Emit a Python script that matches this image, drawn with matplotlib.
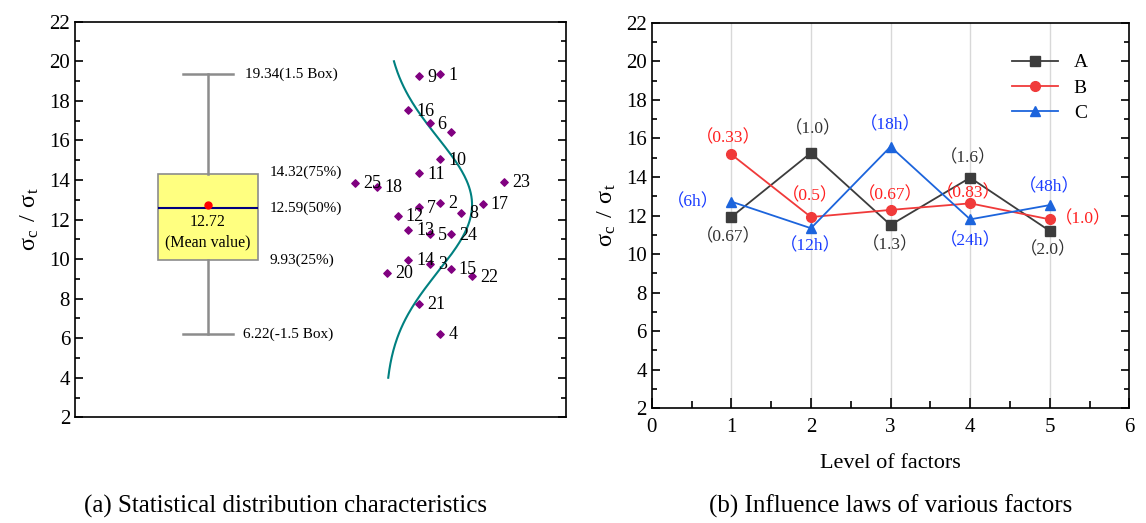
import numpy as np
import matplotlib.pyplot as plt
from matplotlib.ticker import MultipleLocator

plt.rcParams['font.family'] = ['Liberation Serif', 'Noto Sans CJK SC']
plt.rcParams['mathtext.fontset'] = 'custom'
plt.rcParams['mathtext.rm'] = 'Liberation Sans'

# ---- (a) sample data ----
sample_id = list(range(1, 26))
sample_val = [19.34, 12.85, 9.77, 6.22, 11.26, 16.86, 12.62, 12.35, 19.25, 15.04,
              14.34, 12.20, 11.47, 9.96, 9.50, 17.52, 12.79, 13.66, 16.41, 9.30,
              7.75, 9.12, 13.92, 11.26, 13.86]
sample_pos = [34, 34, 33, 34, 33, 33, 32, 36, 32, 34,
              32, 30, 31, 31, 35, 31, 38, 28, 35, 29,
              32, 37, 40, 35, 26]
sample_lbl = [str(i) for i in sample_id]
sample_lbl[18] = ''   # point 19 has no visible label

box_q1, box_med, box_q3 = 9.93, 12.59, 14.32
box_lo, box_hi = 6.22, 19.34
box_mean = 12.72

# ---- (b) level of factors ----
levels = [1, 2, 3, 4, 5]
A_val = [11.92, 15.25, 11.51, 13.96, 11.20]
B_val = [15.17, 11.92, 12.29, 12.63, 11.80]
C_val = [12.72, 11.34, 15.57, 11.80, 12.54]
A_txt = ['（0.67）', '（1.0）', '（1.3）', '（1.6）', '（2.0）']
B_txt = ['（0.33）', '（0.5）', '（0.67）', '（0.83）', '（1.0）']
C_txt = ['（6h）', '（12h）', '（18h）', '（24h）', '（48h）']

fig = plt.figure(figsize=(11.46, 5.23), dpi=100)
ax1 = fig.add_axes([0.0654, 0.2021, 0.4284, 0.7564])
ax2 = fig.add_axes([0.5687, 0.2193, 0.4168, 0.7373])

ylab = r'$\mathregular{\sigma_c\ /\ \sigma_t}$'

# ---------- left panel ----------
bx, bw, cw = 12.1, 9.5, 4.8
ax1.bxp([{'med': box_med, 'q1': box_q1, 'q3': box_q3, 'whislo': box_lo,
          'whishi': box_hi, 'mean': box_mean, 'fliers': []}],
        positions=[bx], widths=bw, patch_artist=True, showmeans=True,
        boxprops=dict(facecolor='#ffff80', edgecolor='#8c8c8c', linewidth=1.2),
        whiskerprops=dict(color='#8c8c8c', linewidth=1.8),
        capprops=dict(color='#8c8c8c', linewidth=1.8),
        medianprops=dict(color='#000080', linewidth=1.5),
        meanprops=dict(marker='o', markerfacecolor='red', markeredgecolor='red', markersize=5))
# shorter caps
for cap in ax1.lines:
    xd = cap.get_xdata()
    if len(xd) == 2 and xd[0] != xd[1] and abs(xd[1] - xd[0]) < bw * 0.9:
        cap.set_xdata([bx - cw / 2, bx + cw / 2])

ax1.text(15.6, box_hi, '19.34(1.5 Box)', fontsize=11, va='center')
ax1.text(17.9, box_q3 + 0.05, '14.32(75%)', fontsize=11, va='center')
ax1.text(17.9, box_med, '12.59(50%)', fontsize=11, va='center')
ax1.text(17.9, box_q1, '9.93(25%)', fontsize=11, va='center')
ax1.text(15.4, box_lo, '6.22(-1.5 Box)', fontsize=11, va='center')
ax1.text(bx, 11.35, '12.72\n(Mean value)', fontsize=11.5, ha='center', va='center', linespacing=1.4)

ax1.scatter(sample_pos, sample_val, marker='D', s=14, color='#800080', zorder=3)
for xp, yp, lb in zip(sample_pos, sample_val, sample_lbl):
    ax1.annotate(lb, (xp, yp), xytext=(8, -1), textcoords='offset pixels',
                 fontsize=13, va='center')

# fitted normal curve
mu = np.mean(sample_val)
sd = np.std(sample_val, ddof=1)
yy = np.linspace(4, 20, 200)
ax1.plot(28.8 + 8.2 * np.exp(-0.5 * ((yy - mu) / sd) ** 2), yy, color='#008080', lw=1.5)

ax1.set_xlim(-0.45, 45.85)
ax1.set_ylim(2, 22)
ax1.set_xticks([])
ax1.yaxis.set_major_locator(MultipleLocator(2))
ax1.yaxis.set_minor_locator(MultipleLocator(1))
ax1.tick_params(axis='y', which='both', direction='in', right=True, labelsize=15, width=1.2)
ax1.tick_params(axis='y', which='major', length=6)
ax1.tick_params(axis='y', which='minor', length=3.5)
ax1.set_ylabel(ylab, fontsize=17.5, labelpad=6)

# ---------- right panel ----------
ax2.plot(levels, A_val, '-s', color='#3c3c3c', lw=1.3, ms=6.5, label='A', zorder=3)
ax2.plot(levels, B_val, '-o', color='#f03a3a', lw=1.3, ms=7, label='B', zorder=3)
ax2.plot(levels, C_val, '-^', color='#1c64dc', lw=1.3, ms=7.5, label='C', zorder=3)

a_off = [(-3, -20), (2, 24), (0, -20), (-2, 20), (-2, -19)]
b_off = [(-3, 16), (-1, 21), (0, 15), (-2, 10), (33, 0)]
c_off = [(-38, 0), (-1, -18), (0, 22), (0, -22), (0, 18)]
for vals, txts, offs, col in [(A_val, A_txt, a_off, '#333333'),
                              (B_val, B_txt, b_off, '#ff2020'),
                              (C_val, C_txt, c_off, '#1a3cff')]:
    for xv, yv, t, o in zip(levels, vals, txts, offs):
        ax2.annotate(t, (xv, yv), xytext=o, textcoords='offset pixels',
                     fontsize=12.5, color=col, ha='center', va='center')

ax2.set_xlim(0, 6)
ax2.set_ylim(2, 22)
ax2.xaxis.set_major_locator(MultipleLocator(1))
ax2.xaxis.set_minor_locator(MultipleLocator(0.5))
ax2.yaxis.set_major_locator(MultipleLocator(2))
ax2.yaxis.set_minor_locator(MultipleLocator(1))
ax2.tick_params(which='both', direction='in', right=True, labelsize=15, width=1.2)
ax2.tick_params(which='major', length=6)
ax2.tick_params(which='minor', length=3.5)
ax2.tick_params(axis='x', which='minor', length=5)
ax2.tick_params(axis='x', which='major', length=7, pad=7)
for xv in levels:
    ax2.axvline(xv, color='#d8d8d8', lw=1, zorder=0)
ax2.set_ylabel(ylab, fontsize=17.5, labelpad=6)
ax2.set_xlabel('Level of factors', fontsize=16, labelpad=12)
ax2.legend(loc='upper right', frameon=False, fontsize=14, handlelength=2.4,
           labelspacing=0.4, bbox_to_anchor=(0.95, 0.965))

for ax in (ax1, ax2):
    for s in ax.spines.values():
        s.set_linewidth(1.2)

fig.text(0.249, 0.02, '(a) Statistical distribution characteristics', fontsize=18, ha='center')
fig.text(0.777, 0.02, '(b) Influence laws of various factors', fontsize=18, ha='center')

fig.savefig('out.png', dpi=100)
